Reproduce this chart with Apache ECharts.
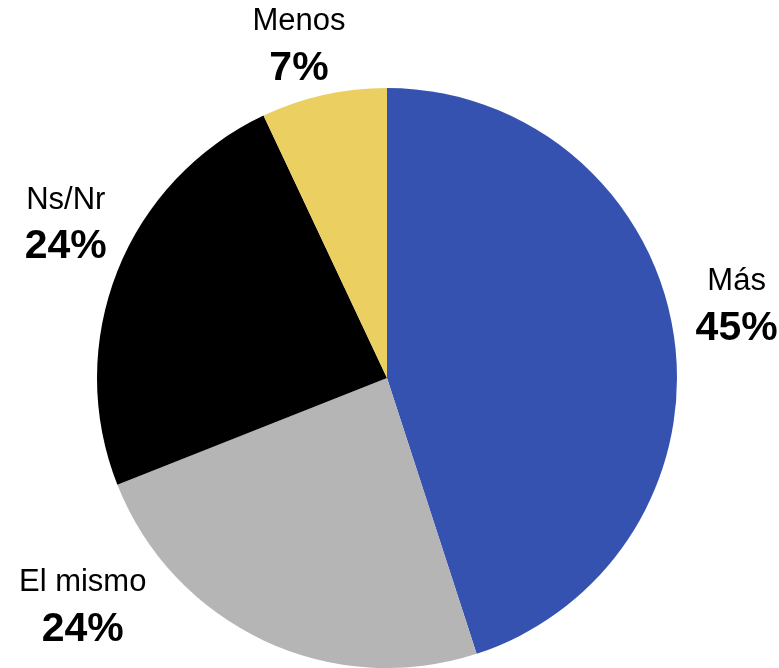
<!DOCTYPE html>
<html>
<head>
<meta charset="utf-8">
<script src="https://cdn.jsdelivr.net/npm/echarts@6/dist/echarts.min.js"></script>
<style>html,body{margin:0;padding:0;background:#fff;}#chart{width:779px;height:668px;}</style>
</head>
<body>
<div id="chart"></div>
<script>
const categories = ['Más', 'El mismo', 'Ns/Nr', 'Menos'];
const values = [45, 24, 24, 7];
const colors = ['#3652B0', '#B5B5B5', '#000000', '#EBCF60'];
const labelOffsets = [[1, -17], [-154, -91], [7, -24], [-11, 12]];

const chart = echarts.init(document.getElementById('chart'), null, {renderer: 'canvas'});
const pieData = categories.map((c, i) => ({name: c, value: values[i], itemStyle: {color: colors[i]}}));
const labelData = categories.map((c, i) => ({
  name: c, value: values[i],
  label: {offset: labelOffsets[i]}
}));
chart.setOption({
  animation: false,
  backgroundColor: '#ffffff',
  series: [
    {
      type: 'pie',
      center: [387, 378],
      radius: [0, 290],
      startAngle: 90,
      clockwise: true,
      silent: true,
      label: {show: false},
      labelLine: {show: false},
      itemStyle: {borderWidth: 0},
      data: pieData
    },
    {
      type: 'pie',
      center: [387, 378],
      radius: [300, 400],
      startAngle: 90,
      clockwise: true,
      silent: true,
      itemStyle: {color: 'rgba(0,0,0,0)', borderWidth: 0},
      labelLine: {show: false},
      label: {
        show: true,
        position: 'inside',
        formatter: p => '{n|' + p.name + '}\n{v|' + Math.round(p.percent) + '%}',
        rich: {
          n: {fontFamily: 'Liberation Sans, Arial, sans-serif', fontSize: 31, color: '#000', lineHeight: 46, align: 'center'},
          v: {fontFamily: 'Liberation Sans, Arial, sans-serif', fontSize: 41, fontWeight: 'bold', color: '#000', lineHeight: 48, align: 'center'}
        }
      },
      data: labelData
    }
  ]
});
</script>
</body>
</html>
